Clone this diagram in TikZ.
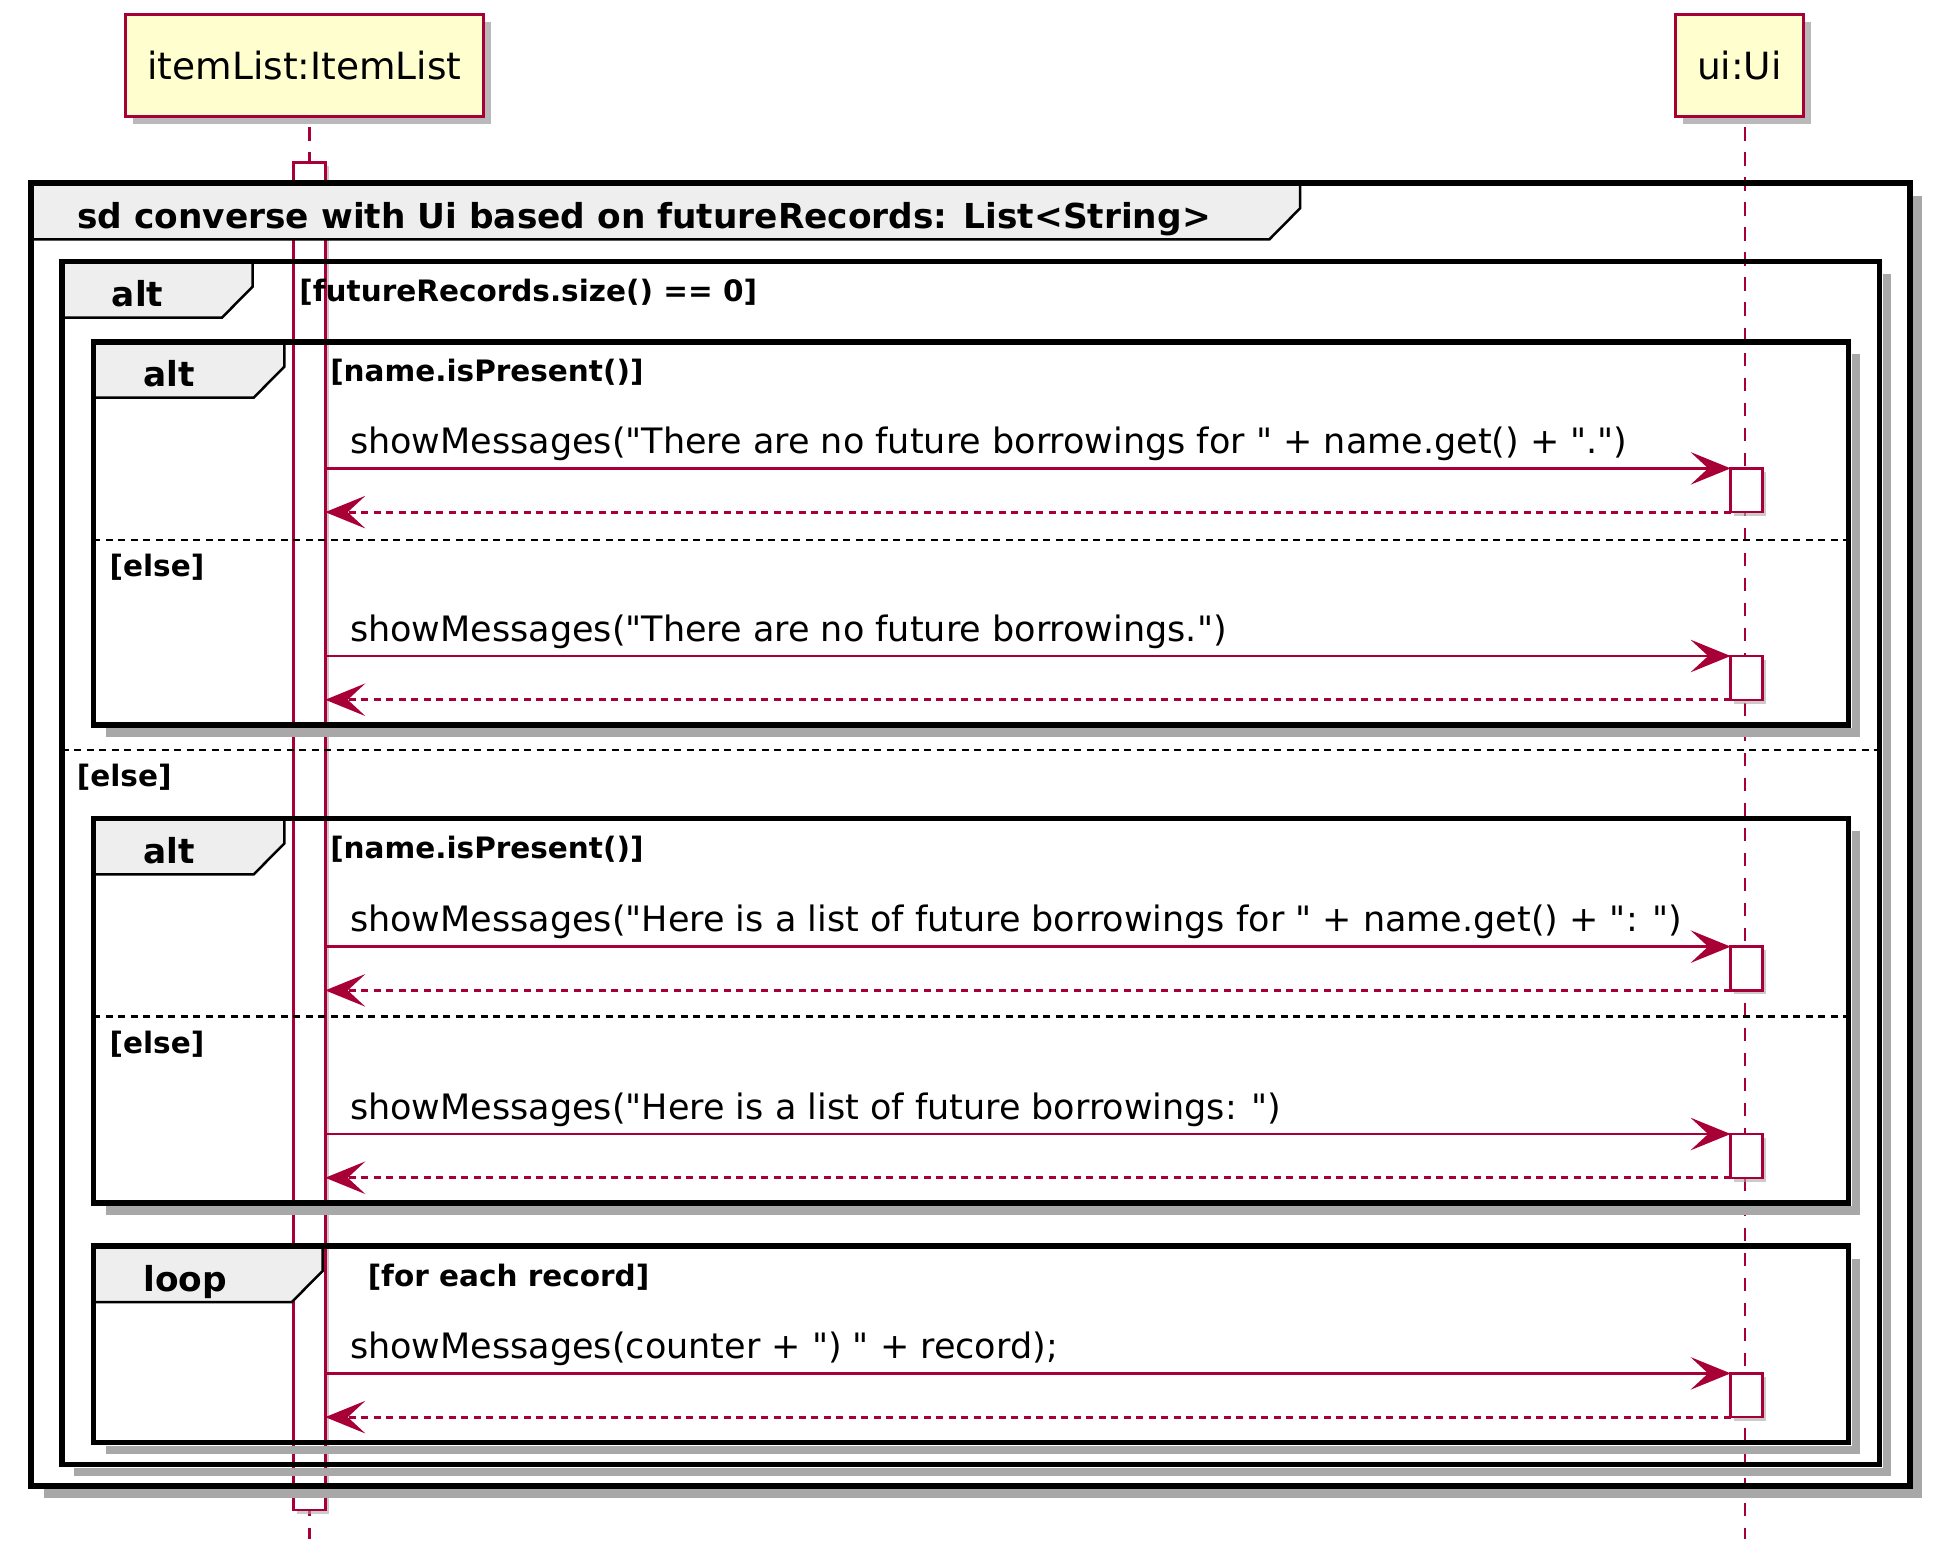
\documentclass[tikz,border=0pt]{standalone}
\usepackage{fontspec}
\newfontfamily\umlfont{DejaVu Sans}
\usepackage{tikz}
\usetikzlibrary{arrows.meta,shadows}
\definecolor{umlred}{HTML}{A80036}
\definecolor{umlfill}{HTML}{FEFECE}
\definecolor{umltab}{HTML}{EEEEEE}
\definecolor{umlshade}{HTML}{A8A8A8}

\begin{document}
\begin{tikzpicture}[x=1pt, y=-1pt,
	actor/.style={rectangle, draw=umlred, line width=2.4pt, fill=umlfill, minimum height=81pt, inner sep=0pt, outer sep=0pt, font=\umlfont\fontsize{30}{36}\selectfont, drop shadow={shadow xshift=6pt, shadow yshift=-6pt, fill=umlshade, opacity=.8}},
	actbar/.style={rectangle, draw=umlred, line width=2pt, fill=white, minimum width=25.5pt, minimum height=35pt, inner sep=0pt, outer sep=0pt, anchor=north west, drop shadow={shadow xshift=3pt, shadow yshift=-3pt, fill=umlshade, opacity=.6}},
	lifeline/.style={draw=umlred, line width=2pt, dash pattern=on 11pt off 9pt, dash phase=11pt},
	call/.style={draw=umlred, line width=2.2pt, -{Stealth[length=32pt, width=26pt, inset=14pt]}},
	reply/.style={draw=umlred, line width=2.2pt, dash pattern=on 5.5pt off 4.5pt, -{Stealth[length=32pt, width=26pt, inset=14pt]}},
	msgtext/.style={inner sep=0pt, anchor=base west, font=\umlfont\fontsize{28}{34}\selectfont},
	frame/.style={draw=black, line width=4.6pt},
	frameshadow/.style={draw=umlshade, line width=7pt},
	tab/.style={draw=black, line width=2pt, fill=umltab},
	tabtext/.style={inner sep=0pt, anchor=base west, font=\umlfont\fontsize{27.5}{33}\selectfont\bfseries},
	guard/.style={inner sep=0pt, anchor=base west, font=\umlfont\fontsize{23.6}{28}\selectfont\bfseries},
	divider/.style={draw=black, line width=2pt, dash pattern=on 5.5pt off 4.5pt}]
	\useasboundingbox (0,0) rectangle (1560.8,1246.4);

	% participants and lifelines
	\node[actor, minimum width=287pt] (itemlist) at (243.5,52.5) {itemList:ItemList};
	\node[actor, minimum width=103pt] (ui) at (1391.5,52.5) {ui:Ui};
	\coordinate (listend) at (247.5,1231);
	\coordinate (uiend) at (1396,1231);
	\draw[lifeline] (itemlist.south -| listend) -- (listend);
	\draw[lifeline] (ui.south -| uiend) -- (uiend);
	\node[actbar, minimum height=1078pt] (actlist) at (234.7,130) {};

	% sd frame
	\draw[frameshadow] (1534,157) -- (1534,1195) -- (35,1195);
	\draw[tab] (24.8,146.7) -- (1040,146.7) -- (1040,166.7) -- (1015.5,191.5) -- (24.8,191.5) -- cycle;
	\draw[frame] (24.8,146.7) rectangle (1528,1189);
	\node[tabtext] (sdname) at (61.7,182.7) {sd converse with Ui based on futureRecords: List<String>};

	% outer alt
	\draw[frameshadow] (1509.5,219.5) -- (1509.5,1177.5) -- (59.5,1177.5);
	\draw[tab] (49.3,209.3) -- (202.1,209.3) -- (202.1,229.3) -- (177.6,254.1) -- (49.3,254.1) -- cycle;
	\draw[frame] (49.3,209.3) rectangle (1503.5,1171.5);
	\node[tabtext] (altsize) at (89.3,245.3) {alt};
	\node[guard] (condsize) at (239.3,241.3) {[futureRecords.size() == 0]};
	\draw[divider] (49.3,600) -- (1503.5,600);
	\node[guard] (elsesize) at (61.3,629.5) {[else]};

	% first inner alt
	\draw[frameshadow] (1484.7,283.5) -- (1484.7,586) -- (85,586);
	\draw[tab] (74.7,273.3) -- (227.5,273.3) -- (227.5,293.3) -- (203,318.1) -- (74.7,318.1) -- cycle;
	\draw[frame] (74.7,273.3) rectangle (1478.7,580);
	\node[tabtext] (altnamea) at (114.7,309.3) {alt};
	\node[guard] (condnamea) at (264,305.3) {[name.isPresent()]};
	\draw[divider] (74.7,432) -- (1478.7,432);
	\node[guard] (elsenamea) at (87.5,461.5) {[else]};

	% second inner alt
	\draw[frameshadow] (1484.7,665) -- (1484.7,968.1) -- (85,968.1);
	\draw[tab] (74.7,654.7) -- (227.5,654.7) -- (227.5,674.7) -- (203,699.5) -- (74.7,699.5) -- cycle;
	\draw[frame] (74.7,654.7) rectangle (1478.7,962.1);
	\node[tabtext] (altnameb) at (114.7,690.7) {alt};
	\node[guard] (condnameb) at (264,686.7) {[name.isPresent()]};
	\draw[divider] (74.7,813.3) -- (1478.7,813.3);
	\node[guard] (elsenameb) at (87.5,842.8) {[else]};

	% loop
	\draw[frameshadow] (1484.7,1007) -- (1484.7,1160) -- (85,1160);
	\draw[tab] (74.7,996.8) -- (258,996.8) -- (258,1016.8) -- (233.5,1041.6) -- (74.7,1041.6) -- cycle;
	\draw[frame] (74.7,996.8) rectangle (1478.7,1154);
	\node[tabtext] (loopname) at (114.5,1032.8) {loop};
	\node[guard] (looprecord) at (294,1028.8) {[for each record]};

	% activations on ui
	\node[actbar] (acta) at (1384.5,374.7) {};
	\node[actbar] (actb) at (1384.5,524.8) {};
	\node[actbar] (actc) at (1384.5,757.3) {};
	\node[actbar] (actd) at (1384.5,907.2) {};
	\node[actbar] (acte) at (1384.5,1098.7) {};

	% messages
	\draw[call] (actlist.east |- acta.north west) -- (acta.north west) node[msgtext, at start, xshift=18.7pt, yshift=12pt] {showMessages("There are no future borrowings for " + name.get() + ".")};
	\draw[reply] (acta.south west) -- (actlist.east |- acta.south west);
	\draw[call] (actlist.east |- actb.north west) -- (actb.north west) node[msgtext, at start, xshift=18.7pt, yshift=12pt] {showMessages("There are no future borrowings.")};
	\draw[reply] (actb.south west) -- (actlist.east |- actb.south west);
	\draw[call] (actlist.east |- actc.north west) -- (actc.north west) node[msgtext, at start, xshift=18.7pt, yshift=12pt] {showMessages("Here is a list of future borrowings for " + name.get() + ": ")};
	\draw[reply] (actc.south west) -- (actlist.east |- actc.south west);
	\draw[call] (actlist.east |- actd.north west) -- (actd.north west) node[msgtext, at start, xshift=18.7pt, yshift=12pt] {showMessages("Here is a list of future borrowings: ")};
	\draw[reply] (actd.south west) -- (actlist.east |- actd.south west);
	\draw[call] (actlist.east |- acte.north west) -- (acte.north west) node[msgtext, at start, xshift=18.7pt, yshift=12pt] {showMessages(counter + ") " + record);};
	\draw[reply] (acte.south west) -- (actlist.east |- acte.south west);
\end{tikzpicture}
\end{document}
